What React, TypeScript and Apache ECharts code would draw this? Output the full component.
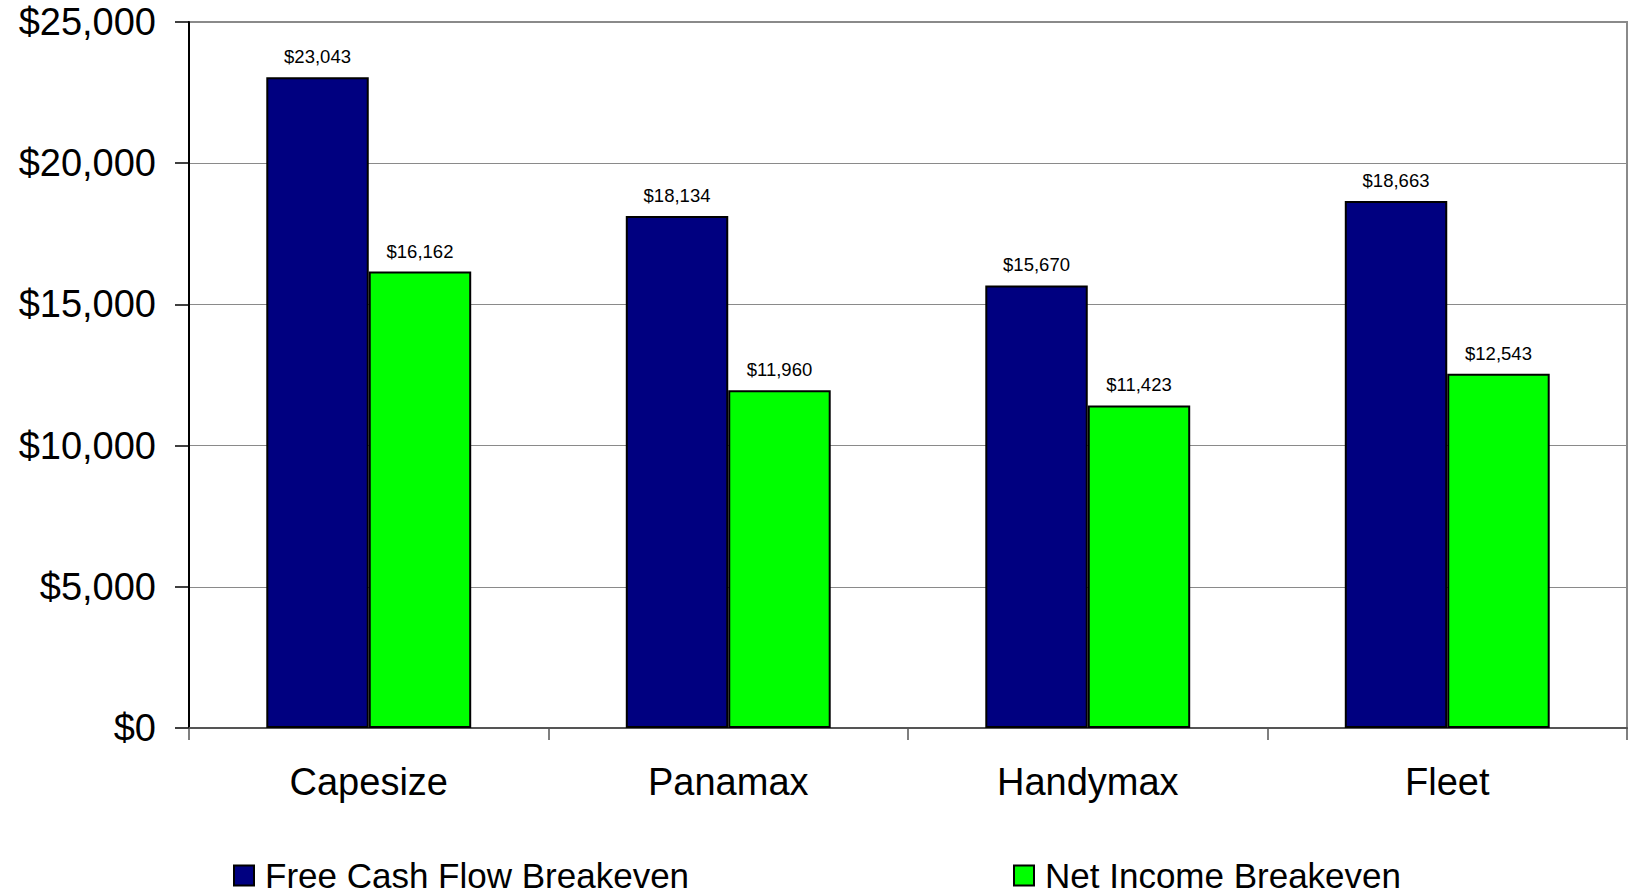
import React, { useEffect, useRef } from "react";
import * as echarts from "echarts";

const categories = ["Capesize", "Panamax", "Handymax", "Fleet"];
const freeCashFlow = [23043, 18134, 15670, 18663];
const netIncome = [16162, 11960, 11423, 12543];
const seriesNames = ["Free Cash Flow Breakeven", "Net Income Breakeven"];

const FONT = "'Liberation Sans', Arial, sans-serif";
const money = (v: number) => "$" + Number(v).toLocaleString("en-US");

export default function App() {
  const ref = useRef<HTMLDivElement>(null);

  useEffect(() => {
    if (!ref.current) return;
    const chart = echarts.init(ref.current, undefined, { renderer: "svg" });
    const barStyle = (color: string) => ({
      color,
      borderColor: "#000",
      borderWidth: 2,
    });
    const valueLabel = {
      show: true,
      position: "top" as const,
      distance: 11,
      formatter: (p: any) => money(p.value),
      fontFamily: FONT,
      fontSize: 18.5,
      color: "#000",
    };
    const legendText = {
      fontFamily: FONT,
      fontSize: 35,
      lineHeight: 28,
      color: "#000",
      padding: [0, 0, 0, 6],
    };
    chart.setOption({
      animation: false,
      backgroundColor: "#fff",
      grid: {
        left: 189,
        right: 7,
        top: 22,
        bottom: 165,
        show: true,
        borderColor: "#8a8a8a",
        borderWidth: 2,
      },
      legend: [
        {
          data: [{ name: seriesNames[0], icon: "rect" }],
          left: 233,
          top: 858,
          padding: 0,
          itemWidth: 20,
          itemHeight: 20,
          textStyle: legendText,
        },
        {
          data: [{ name: seriesNames[1], icon: "rect" }],
          left: 1013,
          top: 858,
          padding: 0,
          itemWidth: 20,
          itemHeight: 20,
          textStyle: legendText,
        },
      ],
      xAxis: {
        type: "category",
        data: categories,
        axisLine: { lineStyle: { color: "#555", width: 2 } },
        axisTick: { show: true, length: 12, lineStyle: { color: "#555", width: 1.5 } },
        axisLabel: {
          fontFamily: FONT,
          fontSize: 38,
          color: "#000",
          margin: 35,
        },
      },
      yAxis: {
        type: "value",
        min: 0,
        max: 25000,
        interval: 5000,
        axisLine: { show: true, lineStyle: { color: "#000", width: 2 } },
        axisTick: { show: true, length: 14, lineStyle: { color: "#000", width: 1.5 } },
        splitLine: { show: true, lineStyle: { color: "#8a8a8a", width: 1 } },
        axisLabel: {
          fontFamily: FONT,
          fontSize: 38,
          color: "#000",
          margin: 33,
          formatter: (v: number) => money(v),
        },
      },
      series: [
        {
          name: seriesNames[0],
          type: "bar",
          data: freeCashFlow,
          barGap: "0%",
          barCategoryGap: "43%",
          itemStyle: barStyle("#000080"),
          label: valueLabel,
        },
        {
          name: seriesNames[1],
          type: "bar",
          data: netIncome,
          barGap: "0%",
          barCategoryGap: "43%",
          itemStyle: barStyle("#00ff00"),
          label: valueLabel,
        },
      ],
    });
    return () => chart.dispose();
  }, []);

  return (
    <div
      ref={ref}
      style={{ position: "fixed", left: 0, top: 0, width: 1634, height: 893 }}
    />
  );
}
